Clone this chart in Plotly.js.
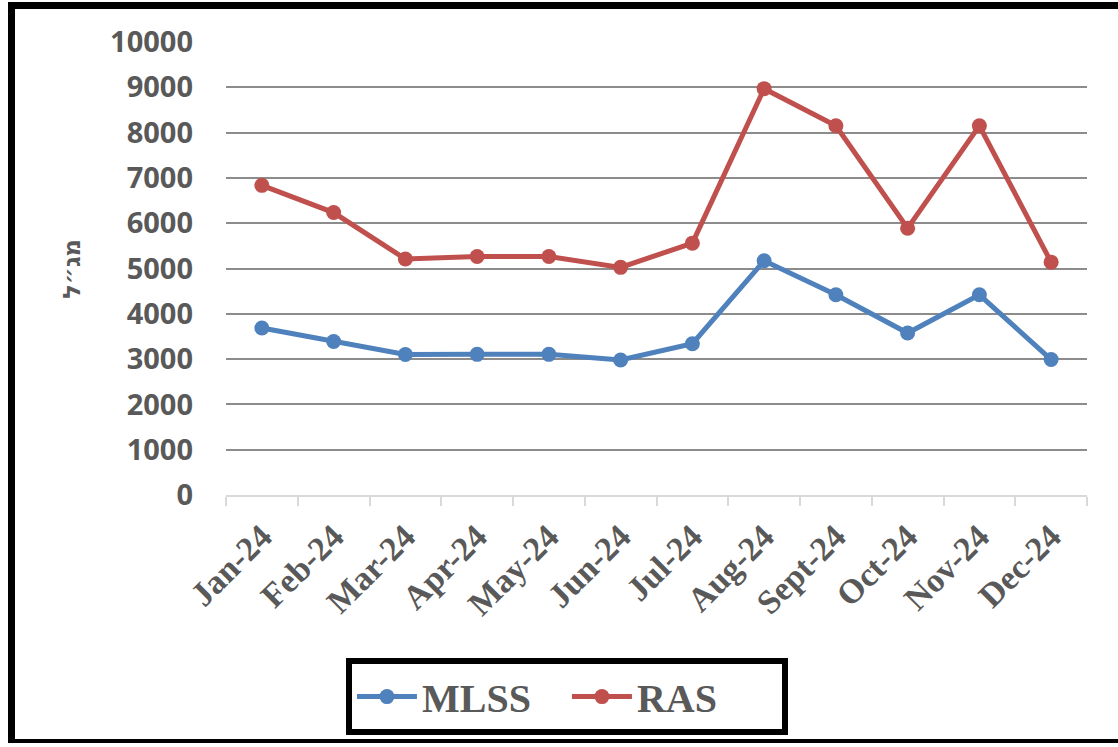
<!DOCTYPE html>
<html>
<head>
<meta charset="utf-8">
<script src="https://cdn.plot.ly/plotly-3.0.1.min.js"></script>
<style>
html,body{margin:0;padding:0;background:#fff;}
#wrap{position:relative;width:1118px;height:747px;}
#chart{width:1118px;height:747px;}
#frame{position:absolute;left:8px;top:2px;width:1110px;height:741px;border-left:7px solid #000;border-top:7px solid #000;border-bottom:4px solid #000;box-sizing:border-box;pointer-events:none;}
</style>
</head>
<body>
<div id="wrap"><div id="chart"></div><div id="frame"></div></div>
<script>
const months = ["Jan-24","Feb-24","Mar-24","Apr-24","May-24","Jun-24","Jul-24","Aug-24","Sept-24","Oct-24","Nov-24","Dec-24"];
const mlss = [3685, 3390, 3100, 3105, 3105, 2980, 3340, 5170, 4420, 3575, 4420, 2990];
const ras  = [6835, 6235, 5210, 5265, 5265, 5025, 5560, 8970, 8150, 5890, 8150, 5140];
const yTitle = "מג״ל";

const grey = "#595959";
const traces = [
  {x: months, y: mlss, name: "MLSS", type: "scatter", mode: "lines+markers",
   line: {color: "#4f81bd", width: 5}, marker: {color: "#4f81bd", size: 15}},
  {x: months, y: ras, name: "RAS", type: "scatter", mode: "lines+markers",
   line: {color: "#c0504d", width: 5}, marker: {color: "#c0504d", size: 15}}
];

const layout = {
  width: 1118, height: 747,
  margin: {l: 226, r: 31, t: 42, b: 250},
  paper_bgcolor: "#fff", plot_bgcolor: "#fff",
  showlegend: true,
  xaxis: {
    type: "category",
    range: [-0.5, 11.5],
    tickangle: -45,
    tickfont: {family: "Liberation Serif, Times New Roman, serif", size: 34, color: grey, weight: "bold"},
    showgrid: false,
    showline: true, linecolor: "#d9d9d9", linewidth: 2,
    ticks: "outside", ticklen: 9, tickcolor: "#d9d9d9", tickwidth: 2,
    tickson: "boundaries",
    ticklabelstandoff: 6,
    zeroline: false
  },
  yaxis: {
    range: [0, 10000], dtick: 1000, tick0: 0, tickformat: "d",
    tickfont: {family: "Open Sans, Liberation Sans, sans-serif", size: 29, color: grey, weight: "bold"},
    showgrid: true, gridcolor: "#8c8c8c", gridwidth: 2,
    showline: false, zeroline: false,
    ticks: "", ticklabelstandoff: 32,
    fixedrange: true
  },
  legend: {
    orientation: "h",
    x: 0.396, xanchor: "center", y: -0.36, yanchor: "top",
    bordercolor: "#000", borderwidth: 6,
    bgcolor: "#fff",
    font: {family: "Liberation Serif, Times New Roman, serif", size: 40, color: grey, weight: "bold"},
    itemwidth: 60,
    entrywidth: 140
  },
  annotations: [{
    text: yTitle, xref: "paper", yref: "paper",
    x: -0.181, y: 0.5, xanchor: "center", yanchor: "middle",
    textangle: -90, showarrow: false,
    font: {family: "Noto Sans, DejaVu Sans, sans-serif", size: 24, color: grey, weight: "bold"}
  }]
};

Plotly.newPlot("chart", traces, layout, {displayModeBar: false, staticPlot: true});
</script>
</body>
</html>
